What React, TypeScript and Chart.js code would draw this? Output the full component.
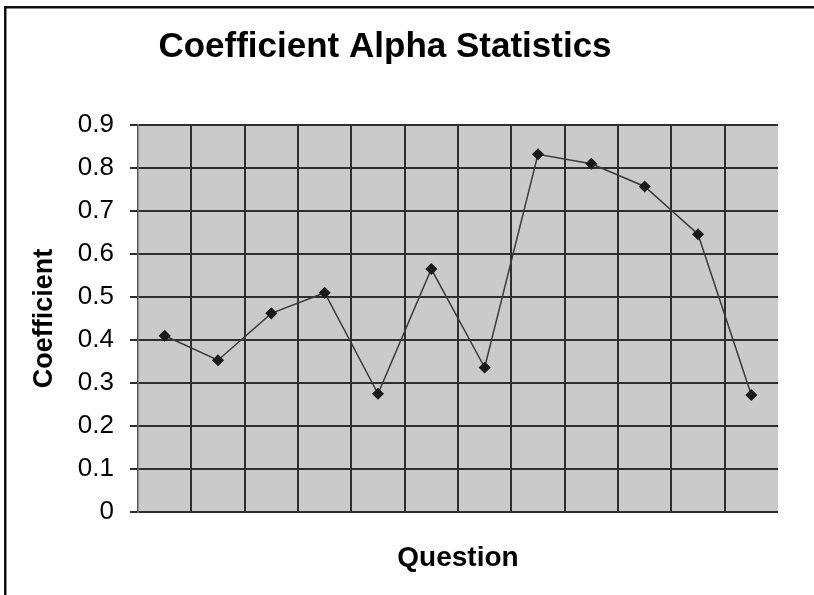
import React, { useEffect, useRef } from "react";
import { Chart, registerables } from "chart.js";

Chart.register(...registerables);

const questions = ["1", "2", "3", "4", "5", "6", "7", "8", "9", "10", "11", "12"];
const coefficients = [0.41, 0.353, 0.462, 0.51, 0.275, 0.565, 0.336, 0.832, 0.81, 0.757, 0.646, 0.272];
const chartTitle = "Coefficient Alpha Statistics";
const xTitle = "Question";
const yTitle = "Coefficient";

const FONT = "'Liberation Sans', Arial, sans-serif";

const decorPlugin = {
  id: "decor",
  beforeDraw(chart: any) {
    const { ctx, chartArea } = chart;
    ctx.save();
    ctx.fillStyle = "#ffffff";
    ctx.fillRect(0, 0, chart.width, chart.height);
    ctx.fillStyle = "#cacaca";
    ctx.fillRect(chartArea.left, chartArea.top, chartArea.right - chartArea.left, chartArea.bottom - chartArea.top);
    ctx.restore();
  },
  afterDraw(chart: any) {
    const { ctx, chartArea } = chart;
    ctx.save();
    // frame: left and top edges only
    ctx.fillStyle = "#111";
    ctx.fillRect(4, 6, 2.5, chart.height - 6);
    ctx.fillRect(4, 6, chart.width - 4, 2.5);
    // titles
    ctx.fillStyle = "#000";
    ctx.textAlign = "center";
    ctx.textBaseline = "middle";
    ctx.font = `bold 35px ${FONT}`;
    ctx.fillText(chartTitle, 385, 47);
    ctx.font = `bold 28px ${FONT}`;
    ctx.fillText(xTitle, (chartArea.left + chartArea.right) / 2, 558);
    ctx.font = `bold 27px ${FONT}`;
    ctx.translate(45, (chartArea.top + chartArea.bottom) / 2);
    ctx.rotate(-Math.PI / 2);
    ctx.fillText(yTitle, 0, 0);
    ctx.restore();
  },
};

export default function App() {
  const ref = useRef<HTMLCanvasElement | null>(null);
  useEffect(() => {
    document.documentElement.style.overflow = "hidden";
    document.body.style.margin = "0";
    if (!ref.current) return;
    const chart = new Chart(ref.current, {
      type: "line",
      data: {
        labels: questions,
        datasets: [
          {
            data: coefficients,
            borderColor: "#3a3a3a",
            borderWidth: 1.5,
            pointStyle: "rectRot",
            pointRadius: 5,
            pointBackgroundColor: "#1a1a1a",
            pointBorderColor: "#1a1a1a",
            tension: 0,
          },
        ],
      },
      options: {
        responsive: false,
        animation: false,
        layout: { padding: { left: 0, top: 125, right: 36, bottom: 83 } },
        plugins: { legend: { display: false }, tooltip: { enabled: false }, title: { display: false } },
        scales: {
          x: {
            type: "category",
            offset: true,
            afterFit: (s: any) => { s.height = 0; },
            ticks: { display: false },
            grid: {
              offset: true,
              drawTicks: false,
              color: (c: any) =>
                c.index === undefined || c.index === 0 || c.index >= questions.length ? "rgba(0,0,0,0)" : "#2e2e2e",
              lineWidth: 2,
            },
            border: { display: false },
          },
          y: {
            min: 0,
            max: 0.9,
            afterFit: (s: any) => { s.width = 138; },
            ticks: {
              stepSize: 0.1,
              color: "#000",
              padding: 16,
              font: { family: FONT, size: 26 },
            },
            grid: { color: "#2e2e2e", lineWidth: 2, tickLength: 8, drawTicks: true },
            border: { display: true, color: "#555", width: 1.5 },
          },
        },
      },
      plugins: [decorPlugin],
    });
    return () => chart.destroy();
  }, []);
  return (
    <div style={{ position: "fixed", left: 0, top: 0, width: 814, height: 595, background: "#fff", overflow: "hidden" }}>
      <canvas ref={ref} width={814} height={595} style={{ display: "block" }} />
    </div>
  );
}
